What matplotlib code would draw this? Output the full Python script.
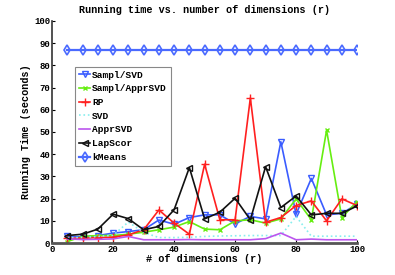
import matplotlib
matplotlib.use("Agg")
import matplotlib.pyplot as plt

# dimensions r
dims = [5, 10, 15, 20, 25, 30, 35, 40, 45, 50, 55, 60, 65, 70, 75, 80, 85, 90, 95, 100]

sampl_svd = [3.0, 2.8, 3.4, 4.5, 5.2, 6.0, 10.4, 8.5, 11.5, 12.7,
             12.7, 8.7, 12.0, 10.9, 45.6, 13.0, 29.1, 12.7, 13.4, 17.5]
sampl_apprsvd = [0.7, 3.0, 3.4, 3.4, 4.0, 4.9, 6.0, 7.2, 9.7, 6.3,
                 6.0, 10.0, 10.5, 9.0, 10.9, 19.9, 10.5, 50.8, 11.5, 18.7]
rp = [2.2, 2.2, 2.5, 2.7, 3.7, 6.0, 14.9, 9.0, 4.0, 35.5,
      10.5, 10.5, 65.3, 9.4, 11.5, 16.9, 19.0, 10.0, 19.9, 16.9]
svd = [2.5, 2.5, 3.0, 3.5, 9.5, 4.8, 2.5, 2.5, 2.6, 3.0,
       3.2, 3.3, 3.4, 3.4, 3.4, 12.0, 3.1, 3.1, 3.1, 3.1]
apprsvd = [1.9, 1.6, 1.7, 1.9, 3.0, 1.5, 1.5, 1.5, 1.6, 1.5,
           1.5, 1.5, 1.5, 2.0, 4.5, 1.5, 1.8, 1.5, 1.5, 1.5]
lapscor = [3.4, 4.0, 6.3, 13.0, 11.0, 6.0, 7.5, 15.0, 34.0, 10.9,
           13.9, 20.2, 10.5, 34.4, 16.0, 21.2, 12.7, 13.4, 13.4, 16.7]
kmeans = [87.0] * len(dims)

plt.rcParams["font.family"] = ["Liberation Mono", "DejaVu Sans Mono"]
plt.rcParams["font.weight"] = "bold"

fig = plt.figure(figsize=(3.95, 2.75), dpi=100)
ax = fig.add_axes([0.132, 0.116, 0.772, 0.808])

ms = 4.5
ax.plot(dims, sampl_svd, color="#3a5cff", marker="v", mfc="none", ms=ms, lw=1.2, label="Sampl/SVD")
ax.plot(dims, sampl_apprsvd, color="#66ee11", marker="x", ms=ms - 1, lw=1.2, label="Sampl/ApprSVD")
ax.plot(dims, rp, color="#ff2020", marker="+", ms=ms + 1, lw=1.2, label="RP")
ax.plot(dims, svd, color="#88eeee", ls=":", lw=1.2, label="SVD")
ax.plot(dims, apprsvd, color="#bb55ee", lw=1.2, label="ApprSVD")
ax.plot(dims, lapscor, color="#111111", marker="<", mfc="none", ms=ms + 0.5, lw=1.2, label="LapScor")
ax.plot(dims, kmeans, color="#4a6aff", marker="d", mfc="none", ms=ms + 0.5, mew=1.2, lw=1.6, label="kMeans")

ax.set_xlim(0, 100)
ax.set_ylim(0, 100)
ax.set_xticks(range(0, 101, 20))
ax.set_yticks(range(0, 101, 10))
ax.tick_params(labelsize=6.5, length=2.5, width=0.8, direction="in", pad=1.5)
for side in ("top", "right"):
    ax.spines[side].set_visible(False)
ax.spines["left"].set_color("#333333")
ax.spines["left"].set_linewidth(1.2)
ax.spines["bottom"].set_color("#555555")
ax.spines["bottom"].set_linewidth(2.0)

ax.set_title("Running time vs. number of dimensions (r)", fontsize=7.3, fontweight="bold", pad=6)
ax.set_xlabel("# of dimensions (r)", fontsize=7.3, fontweight="bold", labelpad=0)
ax.set_ylabel("Running Time (seconds)", fontsize=7.3, fontweight="bold", labelpad=2)

leg = ax.legend(loc="upper left", bbox_to_anchor=(0.06, 0.815), fontsize=6.8,
                handlelength=1.2, handletextpad=0.2, borderpad=0.4,
                labelspacing=0.5, fancybox=False, framealpha=1)
leg.get_frame().set_edgecolor("#888888")
leg.get_frame().set_linewidth(0.8)

fig.savefig("out.png", dpi=100)
